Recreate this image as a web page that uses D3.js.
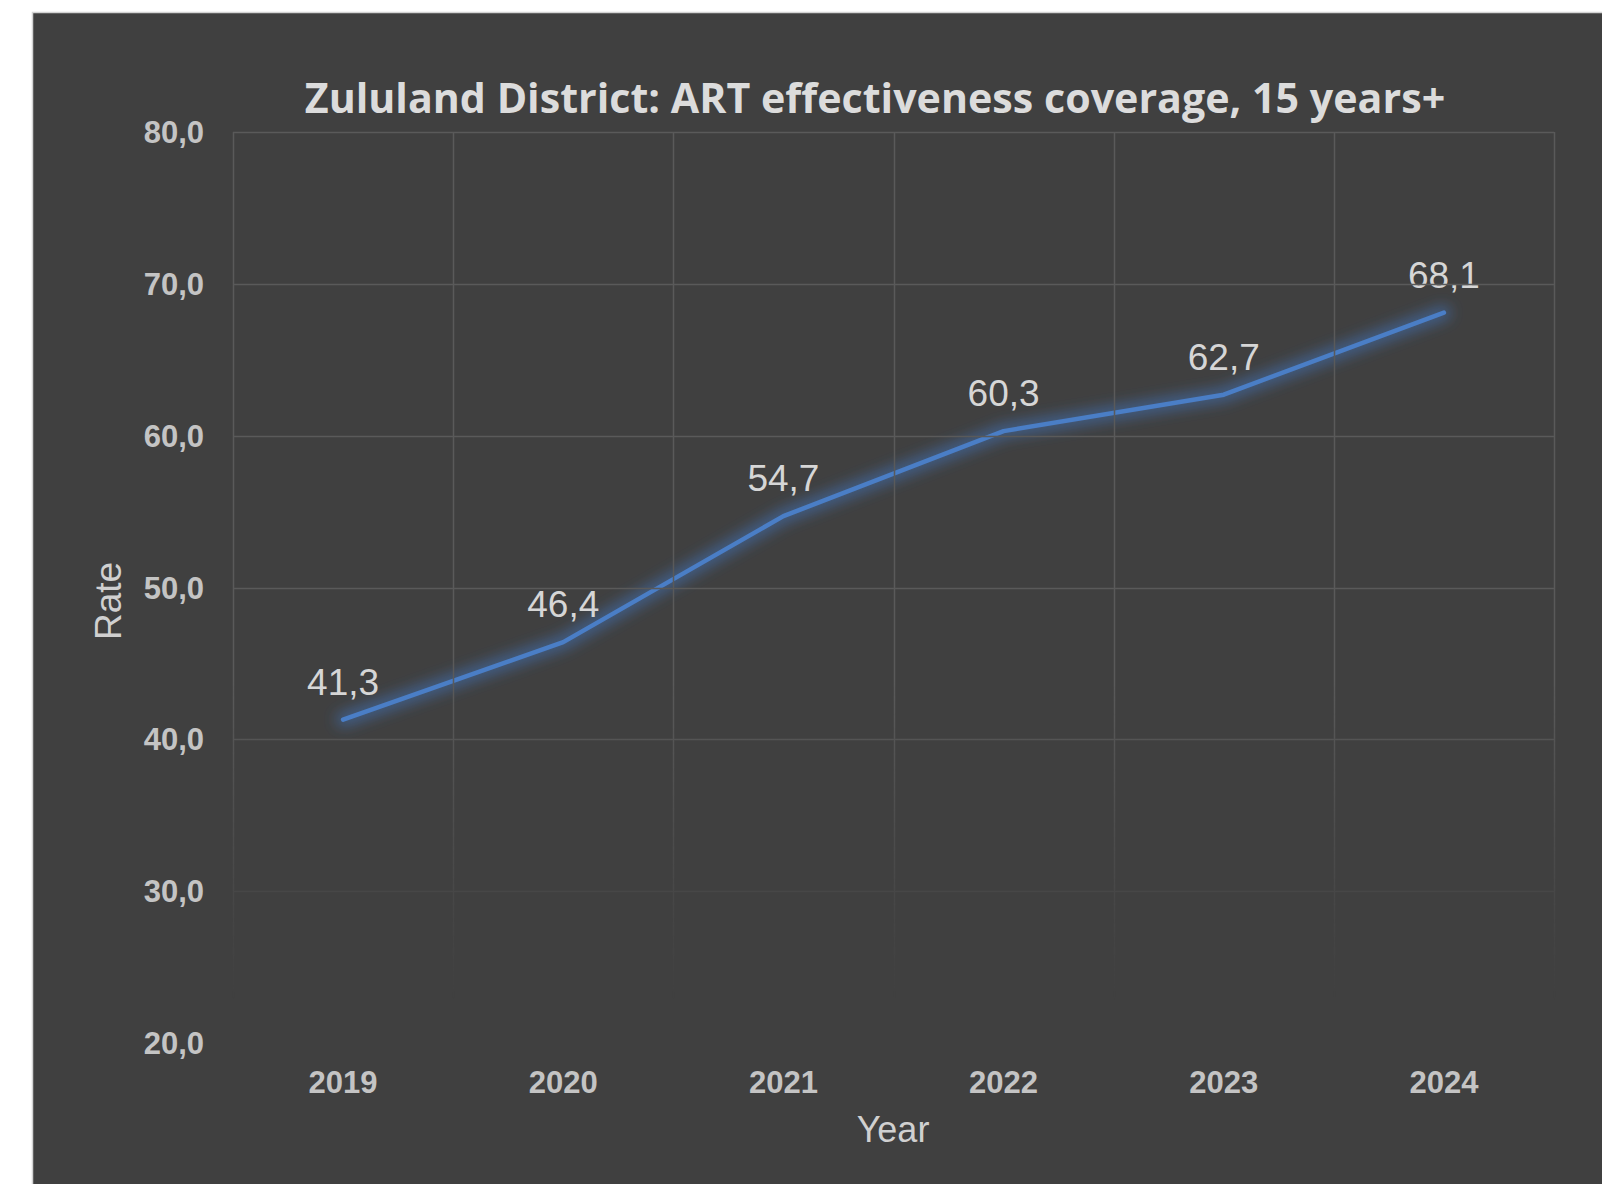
<!DOCTYPE html>
<html>
<head>
<meta charset="utf-8">
<script src="https://cdn.jsdelivr.net/npm/d3@7"></script>
<style>
  body { margin: 0; background: #fff; }
  svg { display: block; }
</style>
</head>
<body>
<div id="chart"></div>
<script>
const years = ["2019", "2020", "2021", "2022", "2023", "2024"];
const rates = [41.3, 46.4, 54.7, 60.3, 62.7, 68.1];
const yTicks = [20, 30, 40, 50, 60, 70, 80];

const W = 1602, H = 1184;
const margin = {top: 132, right: 48, bottom: 141, left: 233};
const width = W - margin.left - margin.right,
  height = H - margin.top - margin.bottom;

const fmt = v => d3.format(".1f")(v).replace(".", ",");

const svg = d3.select("#chart").append("svg")
  .attr("width", W).attr("height", H);

const defs = svg.append("defs");
defs.append("filter").attr("id", "glow")
  .attr("x", "-20%").attr("y", "-30%").attr("width", "140%").attr("height", "160%")
  .append("feGaussianBlur").attr("stdDeviation", 7);

// fade the grid out towards the bottom
const grad = defs.append("linearGradient").attr("id", "fade")
  .attr("gradientUnits", "userSpaceOnUse")
  .attr("x1", 0).attr("x2", 0).attr("y1", 680).attr("y2", 1000);
grad.append("stop").attr("offset", 0).attr("stop-color", "#fff");
grad.append("stop").attr("offset", 0.75).attr("stop-color", "#333");
grad.append("stop").attr("offset", 1).attr("stop-color", "#000");
defs.append("mask").attr("id", "gridMask")
  .attr("maskUnits", "userSpaceOnUse")
  .attr("x", 0).attr("y", 0).attr("width", W).attr("height", H)
  .append("rect").attr("width", W).attr("height", H).attr("fill", "url(#fade)");

svg.append("rect")
  .attr("x", 32.5).attr("y", 12.5).attr("width", W).attr("height", H)
  .attr("fill", "#404040").attr("stroke", "#d4d4d4").attr("stroke-width", 1.5);

const g = svg.append("g").attr("transform", `translate(${margin.left},${margin.top})`);

const x = d3.scaleBand().domain(years).range([0, width]);
const y = d3.scaleLinear().domain([20, 80]).range([height, 0]);

// gridlines
const grid = svg.append("g").attr("mask", "url(#gridMask)")
  .append("g").attr("transform", `translate(${margin.left},${margin.top})`);
grid.selectAll("line.h").data(yTicks).enter().append("line")
  .attr("x1", 0).attr("x2", width)
  .attr("y1", d => Math.round(y(d)) + 0.5).attr("y2", d => Math.round(y(d)) + 0.5)
  .attr("stroke", "#5a5a5a").attr("stroke-width", 1.5);
const bounds = years.map(d => x(d)).concat([width]);
grid.selectAll("line.v").data(bounds).enter().append("line")
  .attr("x1", d => Math.round(d) + 0.5).attr("x2", d => Math.round(d) + 0.5)
  .attr("y1", 0).attr("y2", height)
  .attr("stroke", "#5a5a5a").attr("stroke-width", 1.5);

// y tick labels
g.selectAll("text.ytick").data(yTicks).enter().append("text")
  .attr("x", -29).attr("y", d => y(d)).attr("dy", "0.36em")
  .attr("text-anchor", "end")
  .style("font-family", "'Liberation Sans', Arial, sans-serif")
  .style("font-weight", "bold").style("font-size", "31px")
  .attr("fill", "#c4c4c4")
  .text(d => fmt(d));

// x tick labels
g.selectAll("text.xtick").data(years).enter().append("text")
  .attr("x", d => x(d) + x.bandwidth() / 2).attr("y", height + 50)
  .attr("text-anchor", "middle")
  .style("font-family", "'Liberation Sans', Arial, sans-serif")
  .style("font-weight", "bold").style("font-size", "31px")
  .attr("fill", "#c4c4c4")
  .text(d => d);

const line = d3.line()
  .x((d, i) => x(years[i]) + x.bandwidth() / 2)
  .y(d => y(d));

g.append("path").datum(rates)
  .attr("d", line).attr("fill", "none")
  .attr("stroke", "#3f7fd6").attr("stroke-opacity", 0.5).attr("stroke-width", 14)
  .attr("stroke-linecap", "round").attr("stroke-linejoin", "round")
  .attr("filter", "url(#glow)");

g.append("path").datum(rates)
  .attr("d", line).attr("fill", "none")
  .attr("stroke", "#4a7ec6").attr("stroke-width", 4.5)
  .attr("stroke-linecap", "round").attr("stroke-linejoin", "round");

// data labels
g.selectAll("text.dl").data(rates).enter().append("text")
  .attr("x", (d, i) => x(years[i]) + x.bandwidth() / 2)
  .attr("y", d => y(d) - 25)
  .attr("text-anchor", "middle")
  .style("font-family", "'Liberation Sans', Arial, sans-serif")
  .style("font-size", "37px")
  .attr("fill", "#d6d6d6")
  .text(d => fmt(d));

// axis titles
svg.append("text")
  .attr("transform", "translate(121,601) rotate(-90)")
  .attr("text-anchor", "middle")
  .style("font-family", "'Liberation Sans', Arial, sans-serif")
  .style("font-size", "37px")
  .attr("fill", "#d0d0d0")
  .text("Rate");

svg.append("text")
  .attr("x", 893).attr("y", 1142)
  .attr("text-anchor", "middle")
  .style("font-family", "'Liberation Sans', Arial, sans-serif")
  .style("font-size", "36px")
  .attr("fill", "#d0d0d0")
  .text("Year");

// title, sized to the reference width
const title = svg.append("text")
  .attr("x", 875).attr("y", 113)
  .attr("text-anchor", "middle")
  .style("font-family", "'Open Sans', sans-serif")
  .style("font-weight", "bold").style("font-size", "44px")
  .attr("fill", "#dcdcdc")
  .text("Zululand District: ART effectiveness coverage, 15 years+");
const tw = title.node().getComputedTextLength();
title.style("font-size", (44 * 1141 / tw).toFixed(1) + "px");
</script>
</body>
</html>
